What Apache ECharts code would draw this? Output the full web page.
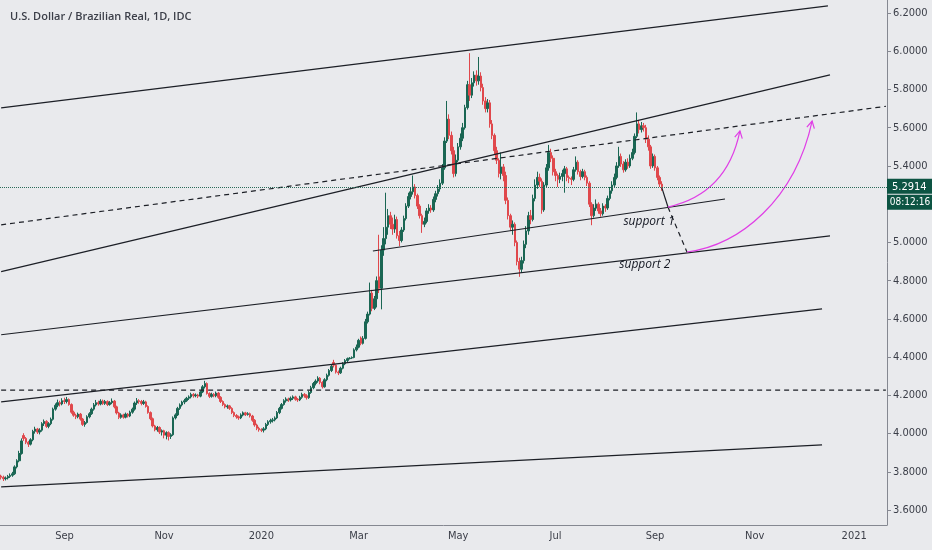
<!DOCTYPE html>
<html>
<head>
<meta charset="utf-8">
<title>U.S. Dollar / Brazilian Real, 1D</title>
<script src="https://cdn.jsdelivr.net/npm/echarts@6/dist/echarts.min.js"></script>
<style>
    html, body { margin: 0; padding: 0; background: #e9eaed; }
    #main { width: 932px; height: 550px; }
</style>
</head>
<body>
<div id="main"></div>
<script>
// first bar of the chart and number of weekday slots (future slots stay empty)
var firstDay = '2019-07-24';
var slotCount = 392;

// labels shown on the first bar of these months
var monthLabels = {
    '2019-09': 'Sep', '2019-11': 'Nov', '2020-01': '2020', '2020-03': 'Mar',
    '2020-05': 'May', '2020-07': 'Jul', '2020-09': 'Sep', '2020-11': 'Nov', '2021-01': '2021'
};

// price axis ticks
var priceTicks = [3.6, 3.8, 4.0, 4.2, 4.4, 4.6, 4.8, 5.0, 5.2, 5.4, 5.6, 5.8, 6.0, 6.2];

// daily candles [open, close, low, high]
var candles = [
    [3.778,3.772,3.760,3.785],[3.772,3.764,3.752,3.780],[3.764,3.768,3.755,3.776],[3.768,3.776,3.760,3.784],
    [3.776,3.782,3.768,3.792],[3.782,3.790,3.774,3.800],[3.790,3.826,3.784,3.834],[3.826,3.858,3.818,3.866],
    [3.858,3.896,3.850,3.910],[3.896,3.962,3.890,3.975],[3.990,3.975,3.962,4.002],[3.975,3.955,3.945,3.982],
    [3.955,3.945,3.930,3.962],[3.945,3.968,3.938,3.976],[3.968,4.012,3.960,4.020],[4.012,4.024,4.000,4.036],
    [4.024,4.008,3.998,4.030],[4.008,4.018,3.996,4.028],[4.018,4.052,4.010,4.060],[4.052,4.064,4.040,4.074],
    [4.064,4.038,4.030,4.070],[4.038,4.052,4.028,4.060],[4.052,4.075,4.044,4.084],[4.075,4.128,4.068,4.136],
    [4.128,4.148,4.120,4.158],[4.148,4.162,4.138,4.178],[4.162,4.155,4.142,4.172],[4.155,4.172,4.148,4.185],
    [4.172,4.168,4.155,4.188],[4.168,4.178,4.158,4.192],[4.178,4.152,4.146,4.184],[4.152,4.112,4.104,4.158],
    [4.112,4.096,4.088,4.120],[4.096,4.088,4.076,4.104],[4.088,4.102,4.080,4.110],[4.102,4.076,4.068,4.108],
    [4.076,4.048,4.040,4.082],[4.048,4.058,4.036,4.066],[4.058,4.088,4.052,4.096],[4.088,4.104,4.080,4.112],
    [4.104,4.128,4.098,4.136],[4.128,4.150,4.120,4.160],[4.150,4.162,4.142,4.176],[4.162,4.155,4.146,4.172],
    [4.155,4.170,4.148,4.180],[4.170,4.158,4.150,4.178],[4.158,4.168,4.150,4.176],[4.168,4.152,4.144,4.174],
    [4.152,4.162,4.146,4.170],[4.162,4.170,4.154,4.184],[4.170,4.140,4.132,4.176],[4.140,4.108,4.100,4.146],
    [4.108,4.085,4.076,4.114],[4.085,4.098,4.078,4.106],[4.098,4.086,4.078,4.104],[4.086,4.102,4.080,4.110],
    [4.102,4.092,4.084,4.108],[4.092,4.112,4.086,4.120],[4.112,4.128,4.104,4.136],[4.128,4.160,4.120,4.168],
    [4.160,4.172,4.150,4.186],[4.172,4.168,4.156,4.180],[4.168,4.158,4.148,4.176],[4.158,4.166,4.150,4.176],
    [4.166,4.142,4.136,4.172],[4.142,4.110,4.104,4.148],[4.110,4.078,4.070,4.116],[4.078,4.040,4.032,4.084],
    [4.040,4.020,4.012,4.046],[4.020,4.032,4.010,4.040],[4.032,4.008,3.998,4.038],[4.008,4.015,3.990,4.022],
    [4.015,3.992,3.975,4.020],[3.992,4.005,3.970,4.012],[4.005,3.985,3.964,4.012],[3.985,3.994,3.972,4.002],
    [3.994,4.082,3.988,4.090],[4.082,4.098,4.074,4.106],[4.098,4.132,4.092,4.140],[4.132,4.150,4.124,4.158],
    [4.150,4.165,4.142,4.172],[4.165,4.172,4.154,4.182],[4.172,4.185,4.166,4.192],[4.185,4.192,4.176,4.200],
    [4.192,4.205,4.184,4.214],[4.205,4.198,4.188,4.212],[4.198,4.202,4.190,4.210],[4.202,4.196,4.186,4.208],
    [4.196,4.218,4.190,4.226],[4.218,4.245,4.212,4.254],[4.245,4.262,4.236,4.276],[4.262,4.210,4.204,4.268],
    [4.210,4.195,4.186,4.216],[4.195,4.205,4.188,4.214],[4.205,4.198,4.190,4.212],[4.198,4.212,4.190,4.220],
    [4.212,4.190,4.182,4.218],[4.190,4.168,4.160,4.196],[4.168,4.152,4.144,4.174],[4.152,4.140,4.132,4.158],
    [4.140,4.145,4.130,4.152],[4.145,4.132,4.124,4.150],[4.132,4.110,4.102,4.138],[4.110,4.095,4.086,4.116],
    [4.095,4.088,4.078,4.102],[4.088,4.082,4.072,4.094],[4.082,4.098,4.076,4.106],[4.098,4.108,4.090,4.116],
    [4.108,4.100,4.092,4.114],[4.100,4.104,4.094,4.112],[4.104,4.092,4.084,4.110],[4.092,4.070,4.062,4.098],
    [4.070,4.045,4.036,4.076],[4.045,4.028,4.018,4.052],[4.028,4.020,4.010,4.036],[4.020,4.018,4.008,4.028],
    [4.018,4.025,4.006,4.034],[4.025,4.048,4.018,4.056],[4.048,4.062,4.040,4.070],[4.062,4.068,4.052,4.078],
    [4.068,4.072,4.058,4.082],[4.072,4.082,4.064,4.090],[4.082,4.110,4.076,4.118],[4.110,4.132,4.102,4.140],
    [4.132,4.152,4.126,4.160],[4.152,4.172,4.146,4.180],[4.172,4.180,4.162,4.190],[4.180,4.176,4.166,4.188],
    [4.176,4.185,4.168,4.194],[4.185,4.192,4.176,4.200],[4.192,4.180,4.172,4.198],[4.180,4.176,4.166,4.186],
    [4.176,4.190,4.170,4.198],[4.190,4.205,4.182,4.214],[4.205,4.198,4.188,4.212],[4.198,4.188,4.178,4.206],
    [4.188,4.215,4.182,4.224],[4.215,4.240,4.208,4.250],[4.240,4.262,4.232,4.270],[4.262,4.275,4.252,4.284],
    [4.275,4.290,4.266,4.300],[4.290,4.268,4.258,4.296],[4.268,4.245,4.236,4.274],[4.245,4.282,4.240,4.290],
    [4.282,4.305,4.274,4.314],[4.305,4.330,4.298,4.338],[4.330,4.352,4.322,4.360],[4.372,4.358,4.346,4.386],
    [4.358,4.322,4.314,4.362],[4.322,4.318,4.306,4.330],[4.318,4.342,4.312,4.350],[4.342,4.365,4.336,4.374],
    [4.365,4.382,4.358,4.390],[4.382,4.392,4.374,4.398],[4.392,4.395,4.388,4.400],[4.395,4.398,4.390,4.404],
    [4.398,4.438,4.394,4.446],[4.438,4.452,4.430,4.466],[4.452,4.488,4.446,4.496],[4.500,4.472,4.462,4.508],
    [4.472,4.498,4.466,4.510],[4.498,4.585,4.492,4.600],[4.585,4.625,4.576,4.638],[4.625,4.735,4.618,4.790],
    [4.735,4.655,4.640,4.752],[4.655,4.705,4.646,4.720],[4.705,4.800,4.660,4.822],[4.820,4.760,4.735,5.040],
    [4.760,4.960,4.650,4.985],[4.960,5.020,4.930,5.080],[5.020,5.080,4.990,5.260],[5.080,5.140,5.040,5.175],
    [5.140,5.095,5.070,5.160],[5.095,5.070,5.040,5.130],[5.070,5.120,5.050,5.145],[5.120,5.035,5.020,5.135],
    [5.035,5.010,4.980,5.060],[5.010,5.065,5.000,5.080],[5.065,5.125,5.055,5.140],[5.125,5.190,5.115,5.205],
    [5.190,5.240,5.180,5.260],[5.240,5.265,5.225,5.285],[5.265,5.290,5.250,5.350],[5.290,5.245,5.230,5.305],
    [5.245,5.190,5.175,5.255],[5.190,5.140,5.125,5.200],[5.140,5.095,5.050,5.150],[5.095,5.110,5.080,5.130],
    [5.110,5.165,5.100,5.180],[5.165,5.180,5.150,5.200],[5.180,5.170,5.155,5.195],[5.170,5.225,5.160,5.240],
    [5.225,5.255,5.210,5.270],[5.255,5.280,5.240,5.300],[5.280,5.310,5.265,5.330],[5.310,5.390,5.300,5.410],
    [5.390,5.530,5.380,5.550],[5.530,5.645,5.520,5.740],[5.645,5.560,5.540,5.670],[5.560,5.480,5.460,5.580],
    [5.480,5.360,5.340,5.500],[5.360,5.430,5.345,5.460],[5.430,5.500,5.420,5.520],[5.500,5.545,5.485,5.570],
    [5.545,5.600,5.530,5.625],[5.600,5.705,5.590,5.720],[5.705,5.825,5.695,5.845],[5.825,5.770,5.740,5.990],
    [5.770,5.835,5.755,5.860],[5.835,5.875,5.815,5.895],[5.875,5.845,5.820,5.900],[5.845,5.870,5.825,5.970],
    [5.870,5.810,5.790,5.890],[5.810,5.740,5.720,5.830],[5.740,5.700,5.680,5.760],[5.700,5.730,5.680,5.750],
    [5.730,5.620,5.600,5.745],[5.620,5.560,5.540,5.640],[5.560,5.480,5.460,5.570],[5.480,5.430,5.410,5.500],
    [5.430,5.360,5.340,5.440],[5.360,5.395,5.330,5.470],[5.395,5.350,5.320,5.410],[5.350,5.220,5.200,5.370],
    [5.220,5.140,5.120,5.235],[5.140,5.080,5.060,5.150],[5.080,5.095,5.040,5.115],[5.095,5.000,4.980,5.105],
    [5.000,4.900,4.880,5.010],[4.900,4.860,4.820,4.920],[4.860,4.905,4.840,4.925],[4.905,4.990,4.890,5.010],
    [4.990,5.060,4.970,5.085],[5.060,5.140,5.040,5.160],[5.140,5.120,5.095,5.170],[5.120,5.230,5.110,5.250],
    [5.230,5.300,5.215,5.330],[5.300,5.340,5.280,5.370],[5.340,5.320,5.290,5.360],[5.320,5.170,5.150,5.335],
    [5.170,5.300,5.160,5.315],[5.300,5.390,5.285,5.410],[5.390,5.470,5.375,5.510],[5.470,5.440,5.420,5.490],
    [5.440,5.370,5.350,5.455],[5.370,5.350,5.320,5.385],[5.350,5.330,5.290,5.360],[5.330,5.345,5.310,5.365],
    [5.345,5.360,5.320,5.380],[5.360,5.385,5.260,5.400],[5.385,5.340,5.320,5.395],[5.340,5.335,5.310,5.350],
    [5.335,5.330,5.300,5.345],[5.330,5.380,5.320,5.395],[5.380,5.420,5.370,5.450],[5.420,5.370,5.355,5.430],
    [5.370,5.345,5.325,5.380],[5.345,5.370,5.335,5.385],[5.370,5.340,5.325,5.380],[5.340,5.310,5.295,5.350],
    [5.310,5.200,5.185,5.320],[5.200,5.140,5.090,5.210],[5.140,5.180,5.130,5.200],[5.180,5.200,5.165,5.225],
    [5.200,5.165,5.150,5.210],[5.165,5.150,5.135,5.180],[5.150,5.190,5.140,5.205],[5.190,5.180,5.160,5.200],
    [5.180,5.230,5.170,5.245],[5.230,5.270,5.220,5.290],[5.270,5.300,5.255,5.320],[5.300,5.340,5.290,5.360],
    [5.340,5.400,5.330,5.420],[5.400,5.450,5.390,5.500],[5.450,5.410,5.395,5.465],[5.410,5.380,5.365,5.425],
    [5.380,5.420,5.370,5.435],[5.420,5.400,5.385,5.440],[5.400,5.440,5.390,5.460],[5.440,5.470,5.430,5.490],
    [5.470,5.555,5.460,5.570],[5.555,5.620,5.545,5.680],[5.620,5.590,5.570,5.640],[5.590,5.610,5.575,5.630],
    [5.610,5.600,5.580,5.625],[5.600,5.540,5.520,5.615],[5.540,5.500,5.480,5.560],[5.500,5.400,5.385,5.510],
    [5.400,5.450,5.390,5.465],[5.450,5.390,5.375,5.460],[5.390,5.340,5.325,5.400],[5.340,5.305,5.290,5.350],
    [5.305,5.2914,5.270,5.320]
];

var lastPrice = 5.2914;
var countdown = '08:12:16';

// drawn lines: [slot1, price1, slot2, price2, dashed]
var trendLines = [
    [0, 5.704, 365.4, 6.237, 0],
    [0, 4.847, 366.3, 5.876, 0],
    [0, 5.092, 391, 5.712, 1],
    [164.3, 4.955, 319.9, 5.227, 0],
    [0, 4.517, 366.3, 5.034, 0],
    [0, 4.166, 362.8, 4.652, 0],
    [0, 4.2275, 391, 4.2275, 1],
    [0, 3.721, 362.8, 3.941, 0],
    [292, 5.285, 294.7, 5.185, 0],
    [294.7, 5.185, 303.1, 4.950, 1]
];

// pink arrows, cubic curves: [slot0, p0, slotC1, pC1, slotC2, pC2, slot1, p1]
var arrowCurves = [
    [294.7, 5.185, 308.9, 5.222, 322.1, 5.327, 326.5, 5.583],
    [303.1, 4.950, 326.5, 4.987, 350.8, 5.222, 358.4, 5.635]
];

// text notes: [slot, price, text]
var notes = [
    [286.3, 5.107, 'support 1'],
    [284.5, 4.882, 'support 2']
];

var upColor = '#1a6653';
var downColor = '#e0484c';
var inkColor = '#1c1f26';
var pinkColor = '#e03ee6';
var labelFont = "'DejaVu Sans Condensed', Roboto, sans-serif";

/**
 * weekday dates from start, n of them
 */
function weekdays(start, n) {
    var out = [];
    var d = new Date(start + 'T00:00:00Z');
    while (out.length < n) {
        var w = d.getUTCDay();
        if (w !== 0 && w !== 6) {
            out.push(d.toISOString().slice(0, 10));
        }
        d.setUTCDate(d.getUTCDate() + 1);
    }
    return out;
}

var days = weekdays(firstDay, slotCount);

// index of the first bar of each labelled month
var labelAt = {};
for (var i = 0; i < days.length; i++) {
    var key = days[i].slice(0, 7);
    if ((i === 0 || days[i - 1].slice(0, 7) !== key) && monthLabels[key]) {
        labelAt[i] = monthLabels[key];
    }
}

// slot (may be fractional) + price -> pixel, via the axes
function toPixel(api, slot, price) {
    var base = Math.floor(slot);
    var pt = api.coord([base, price]);
    var bw = api.size([1, 0])[0];
    return [pt[0] + (slot - base) * bw, pt[1]];
}

function indexData(list) {
    return list.map(function (item, k) { return [0, 5, k]; });
}

var myChart = echarts.init(document.getElementById('main'));

var option = {
    backgroundColor: '#e9eaed',
    animation: false,
    title: {
        text: 'U.S. Dollar / Brazilian Real, 1D, IDC',
        left: 5,
        top: 6,
        textStyle: { fontSize: 11, fontWeight: 600, color: '#3b3e48', fontFamily: "'Open Sans', sans-serif" }
    },
    grid: { left: 0, right: 45, top: 0, bottom: 25 },
    xAxis: {
        type: 'category',
        data: days,
        boundaryGap: true,
        axisLine: { lineStyle: { color: '#858891', width: 1 } },
        axisTick: {
            alignWithLabel: true,
            length: 3,
            lineStyle: { color: '#858891' },
            interval: function (index) { return labelAt[index] !== undefined; }
        },
        axisLabel: {
            interval: function (index) { return labelAt[index] !== undefined; },
            formatter: function (value, index) { return labelAt[index] || ''; },
            color: '#3b3e48',
            fontSize: 11,
            fontFamily: labelFont,
            margin: 6
        },
        splitLine: { show: false }
    },
    yAxis: {
        type: 'value',
        position: 'right',
        min: 3.522,
        max: 6.268,
        axisLine: { show: true, lineStyle: { color: '#858891', width: 1 } },
        axisTick: { show: true, length: 4, customValues: priceTicks, lineStyle: { color: '#858891' } },
        axisLabel: {
            customValues: priceTicks,
            formatter: function (v) { return v.toFixed(4); },
            color: '#3b3e48',
            fontSize: 11,
            fontFamily: labelFont,
            margin: 6
        },
        splitLine: { show: false }
    },
    series: [
        {
            name: 'USDBRL',
            type: 'candlestick',
            data: candles,
            barWidth: '90%',
            itemStyle: {
                color: upColor,
                color0: downColor,
                borderColor: upColor,
                borderColor0: downColor,
                borderWidth: 1
            },
            markLine: {
                silent: true,
                symbol: 'none',
                label: { show: false },
                lineStyle: { type: 'dotted', color: '#2b6b5a', width: 1 },
                data: [{ yAxis: lastPrice }]
            },
            z: 2
        },
        {
            name: 'lines',
            type: 'custom',
            silent: true,
            data: indexData(trendLines),
            renderItem: function (params, api) {
                var l = trendLines[api.value(2)];
                var a = toPixel(api, l[0], l[1]);
                var b = toPixel(api, l[2], l[3]);
                return {
                    type: 'line',
                    shape: { x1: a[0], y1: a[1], x2: b[0], y2: b[1] },
                    style: { stroke: inkColor, lineWidth: 1.2, lineDash: l[4] ? [5, 4] : null }
                };
            },
            z: 3
        },
        {
            name: 'arrows',
            type: 'custom',
            silent: true,
            data: indexData(arrowCurves),
            renderItem: function (params, api) {
                var c = arrowCurves[api.value(2)];
                var p0 = toPixel(api, c[0], c[1]);
                var c1 = toPixel(api, c[2], c[3]);
                var c2 = toPixel(api, c[4], c[5]);
                var p1 = toPixel(api, c[6], c[7]);
                var ang = Math.atan2(p1[1] - c2[1], p1[0] - c2[0]);
                var len = 8, spread = 0.5;
                var h1 = [p1[0] - len * Math.cos(ang - spread), p1[1] - len * Math.sin(ang - spread)];
                var h2 = [p1[0] - len * Math.cos(ang + spread), p1[1] - len * Math.sin(ang + spread)];
                return {
                    type: 'group',
                    children: [
                        {
                            type: 'bezierCurve',
                            shape: {
                                x1: p0[0], y1: p0[1], x2: p1[0], y2: p1[1],
                                cpx1: c1[0], cpy1: c1[1], cpx2: c2[0], cpy2: c2[1]
                            },
                            style: { stroke: pinkColor, lineWidth: 1.2, fill: null }
                        },
                        {
                            type: 'polyline',
                            shape: { points: [h1, p1, h2] },
                            style: { stroke: pinkColor, lineWidth: 1.2, fill: null }
                        }
                    ]
                };
            },
            z: 4
        },
        {
            name: 'notes',
            type: 'custom',
            silent: true,
            data: indexData(notes),
            renderItem: function (params, api) {
                var n = notes[api.value(2)];
                var p = toPixel(api, n[0], n[1]);
                return {
                    type: 'text',
                    x: p[0],
                    y: p[1],
                    style: {
                        text: n[2],
                        fill: '#131722',
                        font: "italic 12px 'Open Sans', sans-serif",
                        align: 'center',
                        verticalAlign: 'middle'
                    }
                };
            },
            z: 4
        },
        {
            name: 'priceTag',
            type: 'custom',
            silent: true,
            clip: false,
            data: [[0, lastPrice]],
            renderItem: function (params, api) {
                var bw = api.size([1, 0])[0];
                var right = api.coord([slotCount - 1, lastPrice])[0] + bw / 2;
                var y = api.coord([0, lastPrice])[1];
                return {
                    type: 'group',
                    children: [
                        { type: 'rect', shape: { x: right, y: y - 8, width: 46, height: 15 }, style: { fill: '#0d5443' } },
                        {
                            type: 'text', x: right + 5, y: y,
                            style: { text: lastPrice.toFixed(4), fill: '#ffffff', font: "11px " + labelFont, verticalAlign: 'middle' }
                        },
                        { type: 'rect', shape: { x: right, y: y + 8, width: 46, height: 15 }, style: { fill: '#0d5443' } },
                        {
                            type: 'text', x: right + 23, y: y + 15.5,
                            style: { text: countdown, fill: '#ffffff', font: "10px " + labelFont, align: 'center', verticalAlign: 'middle' }
                        }
                    ]
                };
            },
            z: 10
        }
    ]
};

myChart.setOption(option);
</script>
</body>
</html>
